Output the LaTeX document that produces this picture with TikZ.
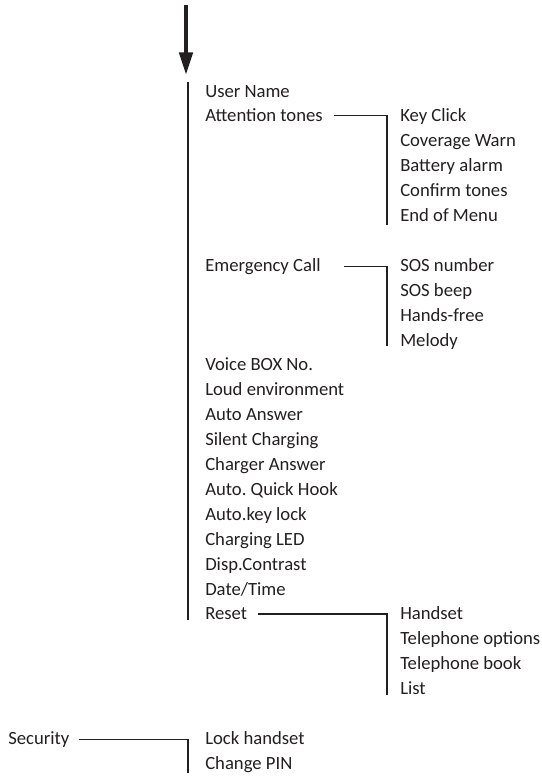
\documentclass[tikz,border=0pt]{standalone}
\usepackage{fontspec}
\setmainfont{Carlito}
\usetikzlibrary{arrows.meta, calc}
\definecolor{mytext}{RGB}{35,31,32}
\tikzset{
  item/.style={anchor=base west, inner sep=0pt, text=mytext,
    font=\fontsize{14}{16}\selectfont\frenchspacing},
  branch/.style={line width=1pt, color=mytext},
  bigarrow/.style={-{Triangle[length=17pt, width=10pt]}, line width=3pt, color=mytext}
}
\begin{document}
\begin{tikzpicture}[x=0.75pt, y=-0.75pt]
  \useasboundingbox (0,0) rectangle (542,778);

  % Entry arrow and main bracket
  \coordinate (entry) at (186,5);
  \coordinate (mtop) at (188,82);
  \draw[bigarrow] (entry) -- (186,75);

  % Main menu
  \node[item] (usr) at (205,97) {User Name};
  \node[item] (att) at (205,121.9) {Attention tones};
  \node[item] (emg) at (205,271.3) {Emergency Call};
  \node[item] (vbox) at (205,370.9) {Voice BOX No.};
  \node[item] (loud) at (205,395.8) {Loud environment};
  \node[item] (aans) at (205,420.7) {Auto Answer};
  \node[item] (silent) at (205,445.6) {Silent Charging};
  \node[item] (chans) at (205,470.5) {Charger Answer};
  \node[item] (qhook) at (205,495.4) {Auto. Quick Hook};
  \node[item] (klock) at (205,520.3) {Auto.key lock};
  \node[item] (led) at (205,545.2) {Charging LED};
  \node[item] (disp) at (205,570.1) {Disp.Contrast};
  \node[item] (date) at (205,595) {Date/Time};
  \node[item] (rst) at (205,619.9) {Reset};
  \draw[branch] (mtop) -- (mtop |- rst.base);

  % Attention tones
  \node[item] (click) at (400,121.9) {Key Click};
  \node[item] (cov) at (400,146.8) {Coverage Warn};
  \node[item] (batt) at (400,171.7) {Battery alarm};
  \node[item] (conf) at (400,196.6) {Confirm tones};
  \node[item] (eom) at (400,221.5) {End of Menu};
  \draw[branch] ($(att.east)+(11,0)$) -- ($(att.east -| click.west)+(-13,0)$)
    -- ($(eom.base -| click.west)+(-13,3)$);

  % Emergency Call
  \node[item] (sosn) at (400,271.3) {SOS number};
  \node[item] (sosb) at (400,296.2) {SOS beep};
  \node[item] (hfree) at (400,321.1) {Hands-free};
  \node[item] (mel) at (400,346) {Melody};
  \draw[branch] ($(emg.east)+(23,0)$) -- ($(emg.east -| sosn.west)+(-13,0)$)
    -- ($(mel.base -| sosn.west)+(-13,0)$);

  % Reset
  \node[item] (hset) at (400,619.9) {Handset};
  \node[item] (topt) at (400,644.8) {Telephone options};
  \node[item] (tbook) at (400,669.7) {Telephone book};
  \node[item] (list) at (400,694.6) {List};
  \draw[branch] ($(rst.east)+(11,0)$) -- ($(rst.east -| hset.west)+(-13,0)$)
    -- ($(list.base -| hset.west)+(-13,0)$);

  % Security
  \node[item] (sec) at (8,744.4) {Security};
  \node[item] (lock) at (205,744.4) {Lock handset};
  \node[item] (pin) at (205,769.3) {Change PIN};
  \draw[branch] ($(sec.east)+(9,0)$) -- ($(sec.east -| lock.west)+(-17,0)$)
    -- ($(pin.base -| lock.west)+(-17,4)$);
\end{tikzpicture}
\end{document}
